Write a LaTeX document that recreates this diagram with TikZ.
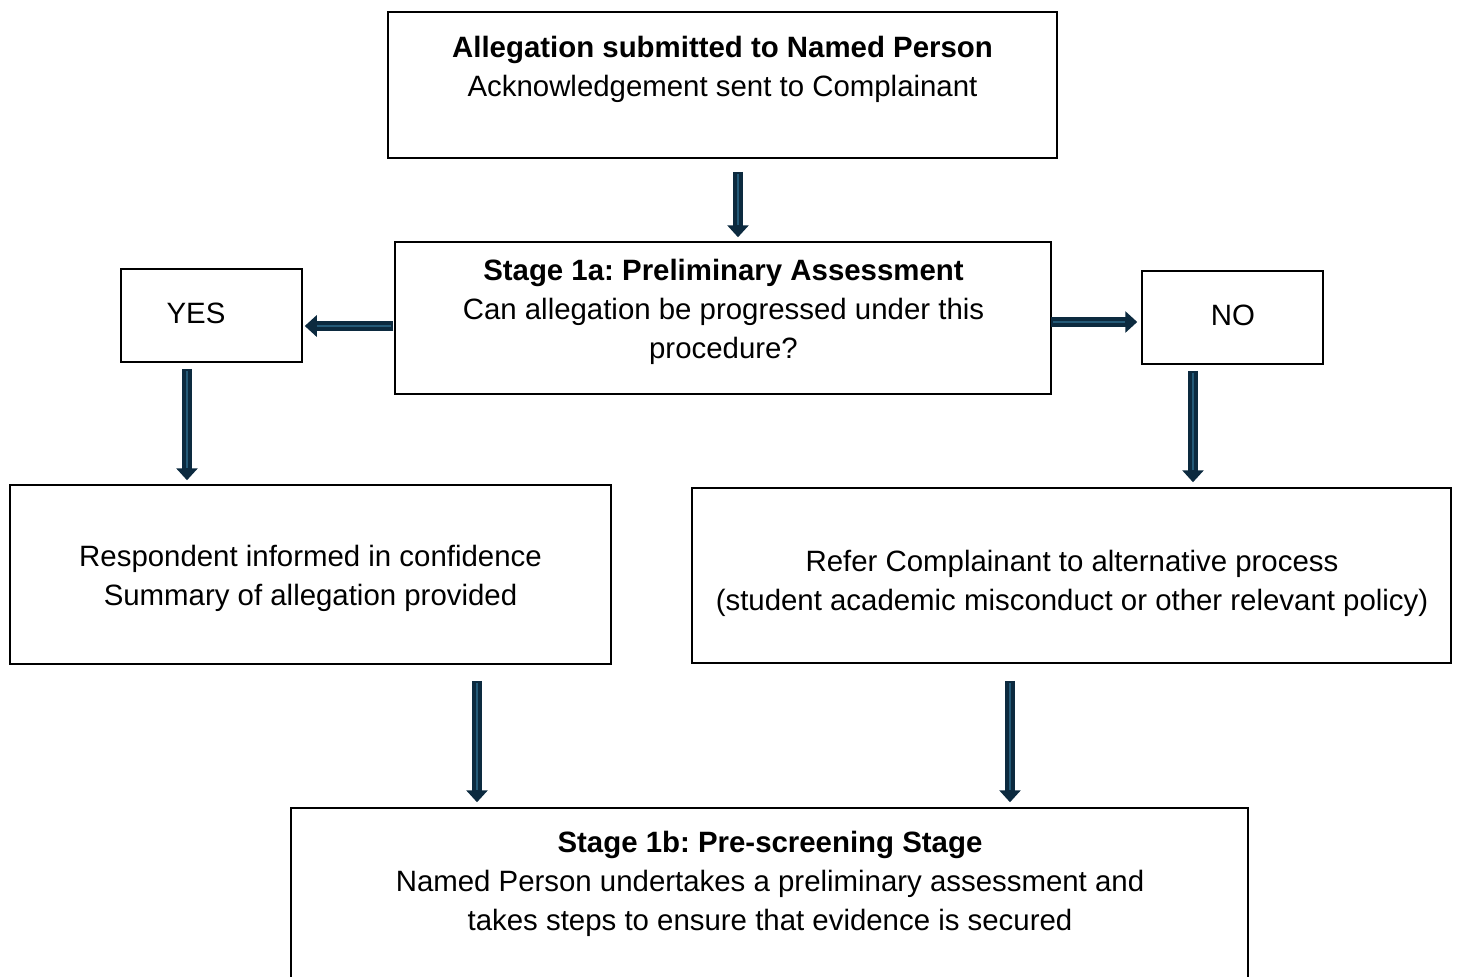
\documentclass[tikz,border=0pt]{standalone}
\usepackage{fontspec}
\setmainfont{Liberation Sans}
\usetikzlibrary{arrows.meta,calc}
\definecolor{arrdark}{HTML}{0C2A3F}
\definecolor{arrlight}{HTML}{245A78}
\frenchspacing
\tikzset{
  box/.style={draw=black, line width=0.75pt, fill=white, inner sep=0pt},
  txt/.style={align=center, inner sep=0pt, font=\fontsize{14.7pt}{19.5pt}\selectfont},
  blk/.style={draw=arrdark, line width=4.8pt, -{Triangle[width=10.5pt,length=6pt]}},
  blkin/.style={draw=arrlight, line width=0.6pt, shorten >=6pt, shorten <=1pt},
}
\newcommand{\barrow}[2]{\draw[blk] (#1) -- (#2); \draw[blkin] (#1) -- (#2);}
\begin{document}
\begin{tikzpicture}[x=0.5pt,y=-0.5pt]
\useasboundingbox (0,0) rectangle (1458,976);
\clip (0,0) rectangle (1458,976);
\fill[white] (0,0) rectangle (1458,976);
% boxes
\node[box, minimum width=334.5pt, minimum height=73pt] (top) at (722.5,85) {};
\node[box, minimum width=328pt, minimum height=76pt] (s1a) at (723,318) {};
\node[box, minimum width=90.5pt, minimum height=46.5pt] (yes) at (211.5,315.5) {};
\node[box, minimum width=90.5pt, minimum height=46.5pt] (no) at (1232.5,317.5) {};
\node[box, minimum width=300.5pt, minimum height=89.5pt] (left) at (310.5,574.5) {};
\node[box, minimum width=379.5pt, minimum height=87.5pt] (right) at (1071.5,575.5) {};
\node[box, minimum width=478.5pt, minimum height=96pt] (bot) at (769.5,904) {};
% texts
\node[txt] (ttop) at (722.5,69.5) {\textbf{Allegation submitted to Named Person}\\Acknowledgement sent to Complainant};
\node[txt] (ts1a) at (723.5,312) {\textbf{Stage 1a: Preliminary Assessment}\\Can allegation be progressed under this\\procedure?};
\node[txt] (tyes) at (196,313) {YES};
\node[txt] (tno) at (1233,315) {NO};
\node[txt] (tleft) at (310.5,578.5) {Respondent informed in confidence\\Summary of allegation provided};
\node[txt] (tright) at (1072,583) {Refer Complainant to alternative process\\(student academic misconduct or other relevant policy)};
\node[txt] (tbot) at (770,884) {\textbf{Stage 1b: Pre-screening Stage}\\Named Person undertakes a preliminary assessment and\\takes steps to ensure that evidence is secured};
% arrow guide coordinates
\coordinate (x1) at (738,0);
\coordinate (y2) at (0,326);
\coordinate (y3) at (0,322);
\coordinate (x4) at (187,0);
\coordinate (x5) at (1193,0);
\coordinate (x6) at (477,0);
\coordinate (x7) at (1010,0);
\path (top.south -| x1) ++(0,13) coordinate (a1s);
\path (s1a.north -| x1) ++(0,-4) coordinate (a1e);
\path (s1a.west |- y2) ++(-1,0) coordinate (a2s);
\path (yes.east |- y2) ++(2,0) coordinate (a2e);
\path (s1a.east |- y3) ++(-1,0) coordinate (a3s);
\path (no.west |- y3) ++(-4,0) coordinate (a3e);
\path (yes.south -| x4) ++(0,6) coordinate (a4s);
\path (left.north -| x4) ++(0,-4) coordinate (a4e);
\path (no.south -| x5) ++(0,6) coordinate (a5s);
\path (right.north -| x5) ++(0,-5) coordinate (a5e);
\path (left.south -| x6) ++(0,16) coordinate (a6s);
\path (bot.north -| x6) ++(0,-5) coordinate (a6e);
\path (right.south -| x7) ++(0,17) coordinate (a7s);
\path (bot.north -| x7) ++(0,-5) coordinate (a7e);
% arrows
\barrow{a1s}{a1e}
\barrow{a2s}{a2e}
\barrow{a3s}{a3e}
\barrow{a4s}{a4e}
\barrow{a5s}{a5e}
\barrow{a6s}{a6e}
\barrow{a7s}{a7e}
\end{tikzpicture}
\end{document}
